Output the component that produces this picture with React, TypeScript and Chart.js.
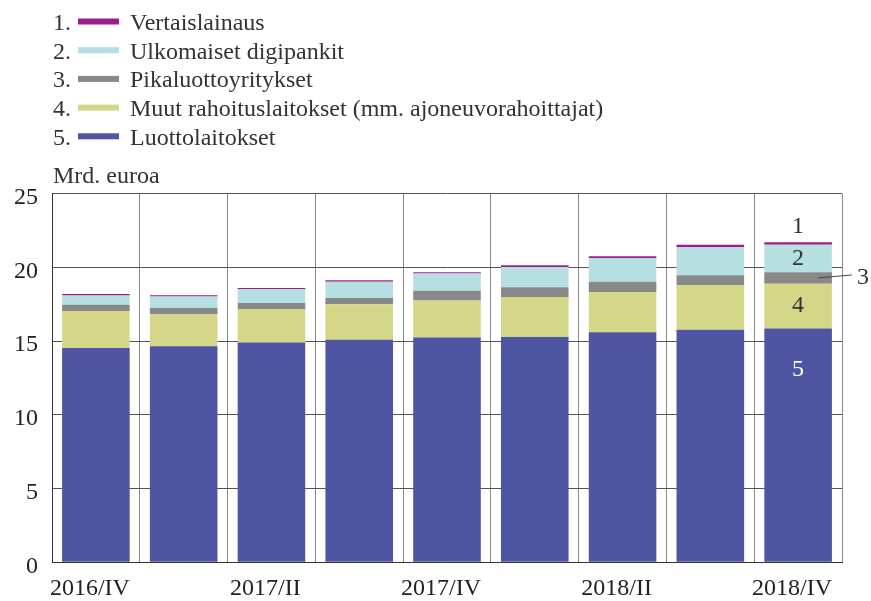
import React, { useEffect, useRef } from "react";
import { Chart, registerables } from "chart.js";
Chart.register(...registerables);

const categories = ["2016/IV", "2017/I", "2017/II", "2017/III", "2017/IV", "2018/I", "2018/II", "2018/III", "2018/IV"];
const shownXLabels = ["2016/IV", "2017/II", "2017/IV", "2018/II", "2018/IV"];
const yTicks = [0, 5, 10, 15, 20, 25];

const luottolaitokset = [14.54, 14.65, 14.9, 15.1, 15.24, 15.28, 15.6, 15.78, 15.85];
const muutRahoituslaitokset = [2.51, 2.17, 2.28, 2.4, 2.51, 2.72, 2.74, 3.03, 3.05];
const pikaluottoyritykset = [0.41, 0.43, 0.41, 0.43, 0.66, 0.66, 0.68, 0.66, 0.77];
const ulkomaisetDigipankit = [0.63, 0.77, 0.93, 1.09, 1.17, 1.37, 1.62, 1.9, 1.86];
const vertaislainaus = [0.11, 0.09, 0.09, 0.11, 0.09, 0.12, 0.12, 0.16, 0.18];

const seriesNames = [
  "Luottolaitokset",
  "Muut rahoituslaitokset (mm. ajoneuvorahoittajat)",
  "Pikaluottoyritykset",
  "Ulkomaiset digipankit",
  "Vertaislainaus",
];
const seriesColors = ["#4e55a3", "#d4d688", "#888888", "#b6dfe1", "#9b1f87"];
const seriesNumbers = ["5", "4", "3", "2", "1"];
const unitLabel = "Mrd. euroa";

const FONT = "'Liberation Serif', 'DejaVu Serif', serif";
const TEXT = "#333333";

const overlayPlugin = {
  id: "overlay",
  afterDraw(chart: any) {
    const ctx = chart.ctx;
    ctx.save();
    // legend (numbered 1..5 from top)
    ctx.font = `24px ${FONT}`;
    ctx.textBaseline = "alphabetic";
    const order = [4, 3, 2, 1, 0];
    order.forEach((di, i) => {
      const base = 30 + i * 28.7;
      ctx.fillStyle = TEXT;
      ctx.textAlign = "left";
      ctx.fillText(seriesNumbers[di] + ".", 53, base);
      ctx.fillStyle = seriesColors[di];
      ctx.fillRect(78, base - 11.5, 41, 6);
      ctx.fillStyle = TEXT;
      ctx.fillText(seriesNames[di], 130, base);
    });
    ctx.fillText(unitLabel, 53, 183);

    // annotations on the last bar
    const last = categories.length - 1;
    const els = [0, 1, 2, 3, 4].map((d) => chart.getDatasetMeta(d).data[last]);
    const cx = els[0].x;
    ctx.textAlign = "center";
    ctx.textBaseline = "middle";
    ctx.font = `24px ${FONT}`;
    ctx.fillStyle = TEXT;
    ctx.fillText("1", cx, els[4].y - 16);
    ctx.fillText("2", cx, (els[3].y + els[3].base) / 2);
    ctx.fillText("4", cx, (els[1].y + els[1].base) / 2);
    ctx.fillStyle = "#ffffff";
    ctx.fillText("5", cx, els[0].y + 41);
    const py = (els[2].y + els[2].base) / 2;
    const right = cx + els[2].width / 2;
    ctx.strokeStyle = "#444";
    ctx.lineWidth = 1;
    ctx.beginPath();
    ctx.moveTo(cx + 20, py);
    ctx.lineTo(right + 20, py - 3);
    ctx.stroke();
    ctx.fillStyle = TEXT;
    ctx.fillText("3", right + 31, py);
    ctx.restore();
  },
};

export default function App() {
  const ref = useRef<HTMLCanvasElement | null>(null);
  useEffect(() => {
    document.body.style.margin = "0";
    const data = [luottolaitokset, muutRahoituslaitokset, pikaluottoyritykset, ulkomaisetDigipankit, vertaislainaus];
    const chart = new Chart(ref.current as HTMLCanvasElement, {
      type: "bar",
      data: {
        labels: categories,
        datasets: data.map((d, i) => ({
          label: seriesNames[i],
          data: d,
          backgroundColor: seriesColors[i],
          borderWidth: 0,
          categoryPercentage: 1,
          barPercentage: 0.77,
        })),
      },
      options: {
        animation: false,
        responsive: false,
        maintainAspectRatio: false,
        layout: { padding: { top: 193.7, right: 29, left: 0, bottom: 0 } },
        plugins: { legend: { display: false }, tooltip: { enabled: false }, title: { display: false } },
        scales: {
          x: {
            stacked: true,
            grid: {
              offset: true,
              drawTicks: false,
              color: (c: any) => (c.index === categories.length ? "#444" : "#8a8a8a"),
              lineWidth: 1,
            },
            border: { color: "#333", width: 1 },
            ticks: {
              autoSkip: false,
              maxRotation: 0,
              padding: 12,
              labelOffset: -6,
              color: "#222",
              font: { family: FONT, size: 24 },
              callback: (_v: any, i: number) => (shownXLabels.includes(categories[i]) ? categories[i] : ""),
            },
            afterFit: (s: any) => {
              s.height = 38.7;
            },
          },
          y: {
            stacked: true,
            min: 0,
            max: 25,
            afterBuildTicks: (s: any) => {
              s.ticks = yTicks.map((v) => ({ value: v }));
            },
            grid: { drawTicks: false, color: "#555", lineWidth: 1 },
            border: { color: "#333", width: 1 },
            ticks: {
              padding: 14,
              labelOffset: 4,
              color: "#222",
              font: { family: FONT, size: 24 },
            },
            afterFit: (s: any) => {
              s.width = 52;
            },
          },
        },
      },
      plugins: [overlayPlugin],
    });
    return () => chart.destroy();
  }, []);
  return (
    <div style={{ position: "fixed", left: 0, top: 0, width: 871, height: 601 }}>
      <canvas ref={ref} width={871} height={601} style={{ width: 871, height: 601 }} />
    </div>
  );
}
